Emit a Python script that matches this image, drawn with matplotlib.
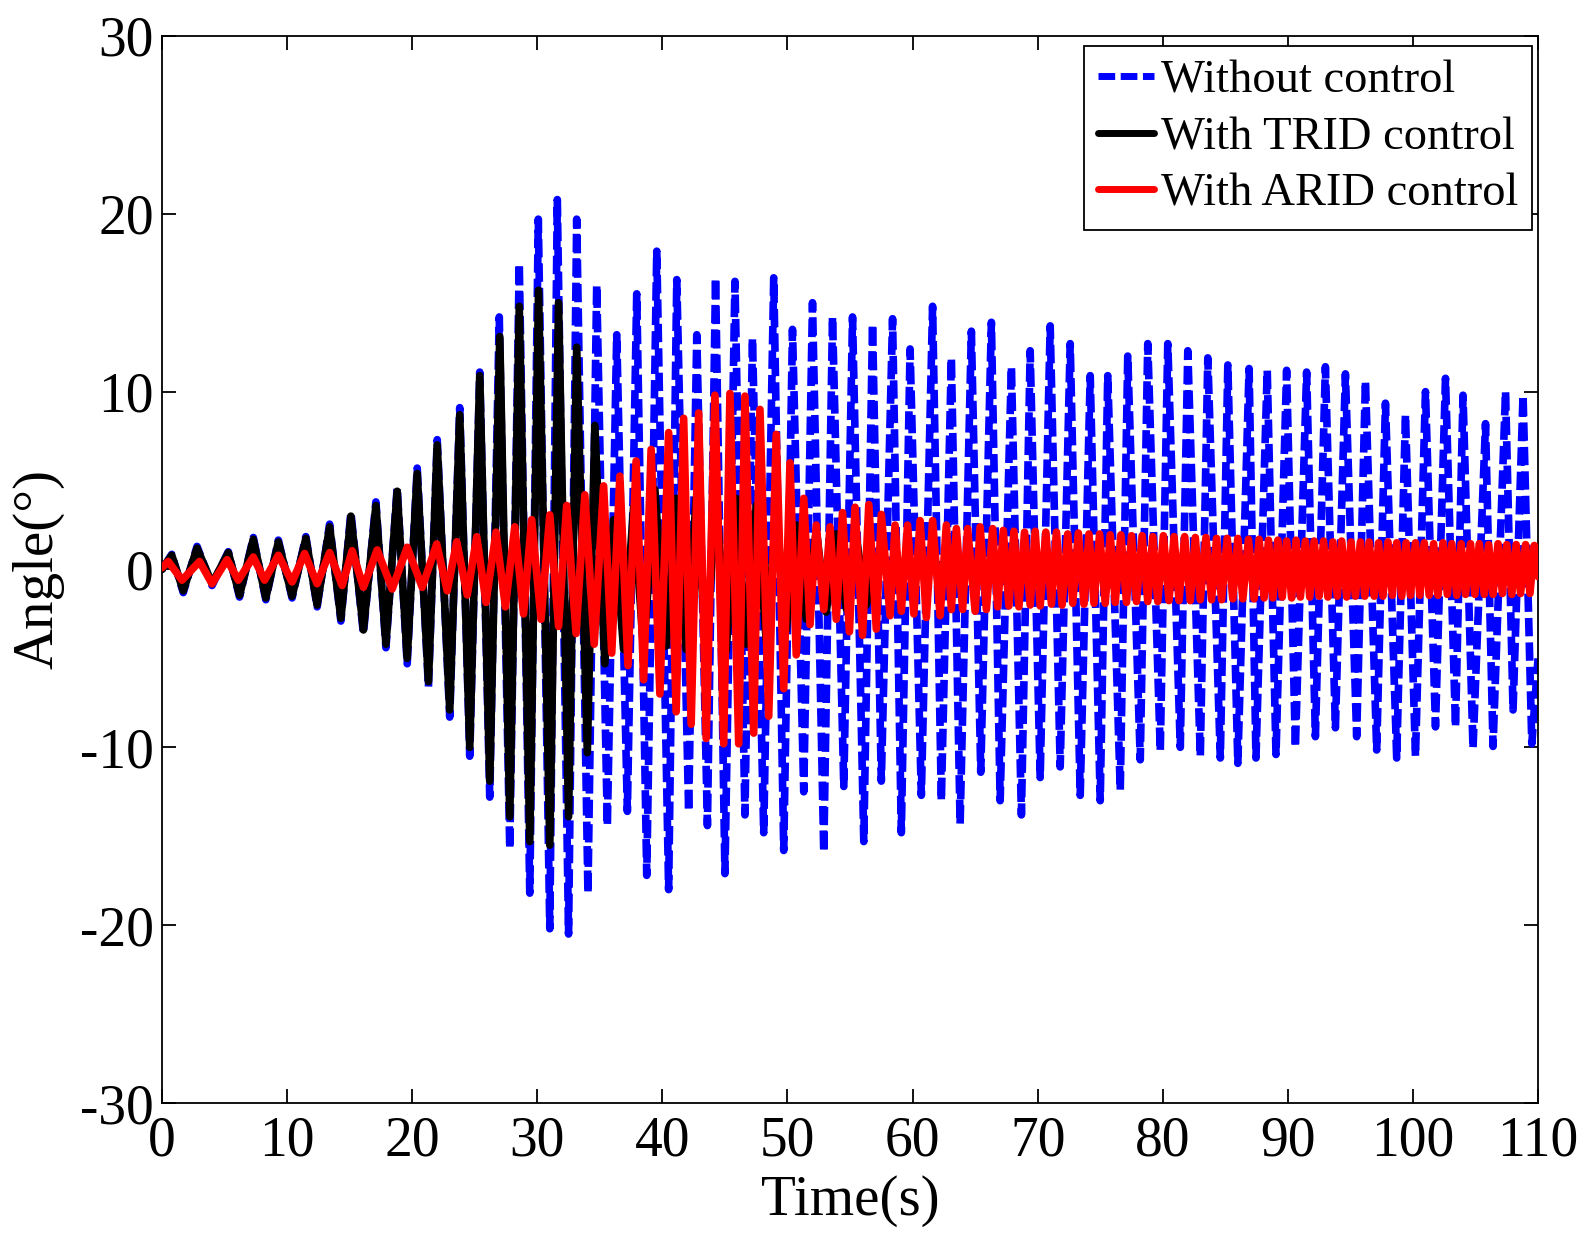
import matplotlib
matplotlib.use('Agg')
import matplotlib.pyplot as plt

plt.rcParams['font.family'] = ['Liberation Serif', 'DejaVu Serif']
plt.rcParams['axes.unicode_minus'] = False

# Extrema (time in s, angle in degrees)
# Without control
blue_t = [0, 0.78, 1.7, 2.8, 4.0, 5.3, 6.2, 7.3, 8.3, 9.3, 10.4, 11.5, 12.4, 13.4, 14.3, 15.1, 16.1, 17.1, 17.9,
          18.8, 19.6, 20.4, 21.3, 22.0, 23.0, 23.8, 24.6, 25.4, 26.2, 26.96, 27.8, 28.56, 29.4, 30.08, 31.0, 31.6,
          32.5, 33.15, 34.05, 34.75, 35.6, 36.35, 37.2, 37.95, 38.75, 39.55, 40.5, 41.15, 42.1, 42.75, 43.6,
          44.25, 45.0, 45.8, 46.6, 47.2, 48.1, 48.9, 49.7, 50.4, 51.3, 52.0, 52.9, 53.6, 54.5, 55.2, 56.1, 56.8,
          57.5, 58.4, 59.1, 59.8, 60.7, 61.6, 62.3, 63.1, 63.8, 64.7, 65.45, 66.3, 67.0, 67.9, 68.7, 69.4, 70.2,
          71.0, 71.8, 72.6, 73.4, 74.2, 75.0, 75.6, 76.6, 77.2, 78.2, 78.8, 79.8, 80.4, 81.4, 82.0, 83.0, 83.6,
          84.6, 85.2, 86.0, 86.9, 87.45, 88.35, 89.05, 89.9, 90.6, 91.5, 92.2, 93.0, 93.8, 94.6, 95.5, 96.2,
          97.1, 97.8, 98.7, 99.4, 100.2, 101.0, 101.8, 102.6, 103.4, 104.0, 104.8, 105.8, 106.4, 107.4, 108.0,
          108.8, 109.5, 110]
blue_v = [0, 0.85, -1.3, 1.3, -0.9, 1.0, -1.55, 1.8, -1.7, 1.65, -1.6, 1.85, -2.1, 2.55, -2.9, 3.2, -3.6, 3.8, -4.4,
          4.6, -5.3, 5.7, -6.6, 7.3, -8.3, 9.1, -10.5, 11.1, -12.8, 14.2, -15.7, 17.2, -18.2, 19.7, -20.2, 20.8,
          -20.5, 19.7, -18.2, 16.0, -14.4, 13.2, -13.6, 15.5, -17.2, 17.9, -18.0, 16.3, -13.6, 13.2, -14.4,
          16.4, -17.1, 16.2, -13.8, 13.0, -14.8, 16.4, -15.8, 13.5, -12.5, 15.0, -15.9, 14.2, -12.2, 14.2, -15.3, 13.8,
          -11.9, 14.1, -14.8, 12.4, -12.7, 14.8, -13.0, 11.9, -14.3, 13.4, -11.4, 13.9, -13.0, 11.4, -13.8, 12.3, -11.7,
          13.7, -11.1, 12.7, -12.7, 10.9, -13.0, 10.9, -12.4, 12.0, -10.7, 12.7, -10.2, 12.7, -10.0, 12.3, -10.5, 11.9,
          -10.6, 11.5, -10.9, 11.3, -10.6, 11.2, -10.4, 11.2, -10.0, 11.1, -9.4, 11.4, -8.9, 11.0, -9.4, 10.6,
          -10.15, 9.35, -10.6, 8.7, -10.5, 10.0, -8.85, 10.75, -8.85, 9.8, -10.05, 8.2, -9.95, 10.0, -7.9,
          9.8, -9.8, -5.0]

# With TRID control
black_t = [0, 0.78, 1.7, 2.8, 4.0, 5.3, 6.2, 7.3, 8.3, 9.3, 10.4, 11.5, 12.4, 13.4, 14.3, 15.1, 16.1, 17.1, 17.9,
           18.8, 19.6, 20.4, 21.3, 22.0, 23.0, 23.8, 24.6, 25.4, 26.2, 27.0, 27.8, 28.56, 29.4, 30.1, 31.0, 31.7,
           32.5, 33.15, 34.0, 34.6, 35.4, 36.1, 36.9, 37.7, 38.5, 39.4, 40.3, 41.1, 41.9, 42.7, 43.5, 44.3, 45.1,
           45.9, 46.7, 47.5, 48.3, 49.1, 49.9, 50.7, 51.5, 52.3, 53.1, 53.9, 54.7, 55.5, 56.3, 57.1]
black_v = [0, 0.8, -1.2, 1.2, -0.8, 0.95, -1.45, 1.7, -1.6, 1.55, -1.5, 1.75, -2.0, 2.4, -2.75, 3.0, -3.4, 3.6, -4.2,
           4.4, -5.0, 5.4, -6.3, 7.0, -7.9, 8.7, -10.0, 10.9, -11.9, 13.1, -13.9, 14.8, -15.3, 15.7, -15.5, 15.0,
           -13.9, 12.5, -10.3, 8.1, -5.3, 2.8, -4.5, 3.5, -4.6, 4.5, -4.3, 4.0, -4.5, 4.0, -4.5, 4.2, -4.6,
           4.0, -4.2, 3.6, -4.0, 3.2, -3.4, 2.5, -2.8, 2.2, -2.4, 2.0, -2.2, 1.8, -2.0, 0.5]

# With ARID control
red_t = [0, 0.5, 1.6, 3.0, 4.0, 5.2, 6.1, 7.3, 8.2, 9.3, 10.4, 11.4, 12.4, 13.4, 14.4, 15.2, 16.1, 17.2, 18.4,
         19.6, 20.8, 21.96, 22.8, 23.56, 24.4, 25.16, 25.9, 26.7, 27.45, 28.2, 28.9, 29.55, 30.3, 31.0, 31.7,
         32.35, 33.1, 33.8, 34.55, 35.3, 35.95, 36.6, 37.25, 37.9, 38.5, 39.1, 39.8, 40.5, 41.1, 41.7, 42.3,
         42.9, 43.5, 44.2, 44.9, 45.4, 46.1, 46.6, 47.3, 47.8, 48.5, 49.1, 49.7, 50.2, 50.7, 51.3, 51.8, 52.3,
         52.9, 53.4, 53.9, 54.4, 54.95, 55.4, 56.0, 56.5, 57.1, 57.5, 58.2, 58.6, 59.1, 59.6, 60.1, 60.6, 61.1,
         61.6, 62.2, 62.7, 63.1, 63.5, 64.0, 64.4, 65.0, 65.4, 65.9, 66.4,
         66.8, 67.25, 67.7, 68.1, 68.5, 68.95, 69.4, 69.8, 70.2, 70.65, 71.1, 71.5, 71.95, 72.4, 72.8, 73.25,
         73.7, 74.1, 74.5, 74.95, 75.4, 75.8, 76.2, 76.65, 77.1, 77.5, 77.9, 78.35, 78.8, 79.2, 79.6, 80.05,
         80.5, 80.9, 81.3, 81.75, 82.2, 82.6, 83.0, 83.45, 83.9, 84.3, 84.7, 85.15, 85.6, 86.0, 86.4, 86.85,
         87.3, 87.7, 88.1,
         88.45, 88.8, 89.2, 89.55, 89.9, 90.3, 90.65, 91.0, 91.4, 91.75, 92.1, 92.5, 92.85, 93.2, 93.6, 93.95,
         94.3, 94.7, 95.05, 95.4, 95.8, 96.15, 96.5, 96.9, 97.25, 97.6, 98.0, 98.35, 98.7, 99.1, 99.45, 99.8,
         100.2, 100.55, 100.9, 101.3, 101.65, 102.0, 102.4, 102.75, 103.1, 103.5, 103.85, 104.2, 104.6, 104.95,
         105.3, 105.7, 106.05, 106.4, 106.8, 107.15, 107.5, 107.9, 108.25, 108.6, 109.0, 109.35, 109.7, 110]
red_v = [0.1, 0.45, -0.6, 0.45, -0.8, 0.55, -0.6, 0.7, -0.6, 0.8, -0.7, 0.9, -0.8, 0.95, -0.9, 1.05, -1.0, 1.1, -1.1,
         1.25, -1.0, 1.43, -1.2, 1.56, -1.43, 1.84, -1.85, 2.1, -2.1, 2.4, -2.5, 2.8, -2.8, 3.07, -3.2,
         3.6, -3.6, 4.2, -4.2, 4.7, -4.7, 5.25, -5.4, 6.1, -6.2, 6.75, -7.0, 7.7, -8.0, 8.5, -8.7,
         8.8, -9.5, 9.8, -9.8, 9.9, -9.8, 9.75, -9.2, 9.0, -8.25, 7.6, -6.7, 6.0, -4.8, 4.0, -3.1, 2.5,
         -2.25, 2.4, -2.8, 3.2, -3.5, 3.5, -3.7, 3.65, -3.35, 3.1, -2.6, 2.5, -2.35, 2.5, -2.5, 2.75, -2.7,
         2.75, -2.6, 2.5, -2.25, 2.3, -2.25, 2.3, -2.35, 2.4, -2.25, 2.3,
         -2.1, 2.2, -2.05, 2.15, -2.1, 2.1, -2.0, 2.15, -2.05, 2.1, -1.95, 2.1, -2.0, 2.0, -1.9, 2.05,
         -1.95, 2.0, -1.9, 2.0, -1.9, 1.95, -1.85, 1.95, -1.85, 1.9, -1.8, 1.9, -1.8, 1.85, -1.8, 1.9,
         -1.75, 1.85, -1.75, 1.85, -1.75, 1.8, -1.7, 1.8, -1.7, 1.75, -1.7, 1.75, -1.65, 1.75, -1.65, 1.7,
         -1.65, 1.7, -1.6,
         1.65, -1.6, 1.65, -1.55, 1.6, -1.6, 1.65, -1.55, 1.6, -1.55, 1.6, -1.5, 1.6, -1.55, 1.55, -1.5,
         1.6, -1.55, 1.55, -1.5, 1.55, -1.5, 1.55, -1.5, 1.5, -1.5, 1.55, -1.45, 1.5, -1.5, 1.5, -1.45,
         1.5, -1.45, 1.5, -1.45, 1.45, -1.45, 1.5, -1.4, 1.45, -1.45, 1.45, -1.4, 1.45, -1.4,
         1.45, -1.4, 1.4, -1.4, 1.45, -1.35, 1.4, -1.4, 1.4, -1.35, 1.4, -1.35, 1.35, -0.4]

labels = ['Without control', 'With TRID control', 'With ARID control']

fig = plt.figure(figsize=(15.96, 12.36), dpi=100)
ax = fig.add_axes([0.1015, 0.1076, 0.8622, 0.8633])

lw = 5.5
l1, = ax.plot(blue_t, blue_v, color='#0000ff', lw=lw, label=labels[0], zorder=2,
              dash_capstyle='butt', dash_joinstyle='round')
l1.set_dashes((2.4, 0.8))
ax.plot(black_t, black_v, color='k', lw=lw, label=labels[1], zorder=3,
        solid_joinstyle='round', solid_capstyle='round')
ax.plot(red_t, red_v, color='#ff0000', lw=lw, label=labels[2], zorder=4,
        solid_joinstyle='round', solid_capstyle='round')

ax.set_xlim(0, 110)
ax.set_ylim(-30, 30)
ax.set_xticks(range(0, 111, 10))
ax.set_yticks(range(-30, 31, 10))
ax.tick_params(direction='in', length=10, width=1.3, labelsize=40,
               top=True, right=True)
ax.tick_params(axis='x', pad=9)
ax.tick_params(axis='y', pad=6)
for s in ax.spines.values():
    s.set_linewidth(1.3)

ax.set_xlabel('Time(s)', fontsize=41, va='center')
ax.set_ylabel('Angle(°)', fontsize=41, va='center')
ax.xaxis.set_label_coords(0.5, -0.092)
ax.yaxis.set_label_coords(-0.09, 0.5)

leg = ax.legend(loc='upper right', bbox_to_anchor=(0.9956, 0.9906), borderaxespad=0,
                fontsize=33.5, fancybox=False, framealpha=1, edgecolor='k',
                handlelength=1.2, handletextpad=0.15, labelspacing=0.3,
                borderpad=0.3)
leg.get_frame().set_linewidth(1.3)
for h in leg.get_lines():
    h.set_linewidth(5)

fig.savefig('out.png', dpi=100)
